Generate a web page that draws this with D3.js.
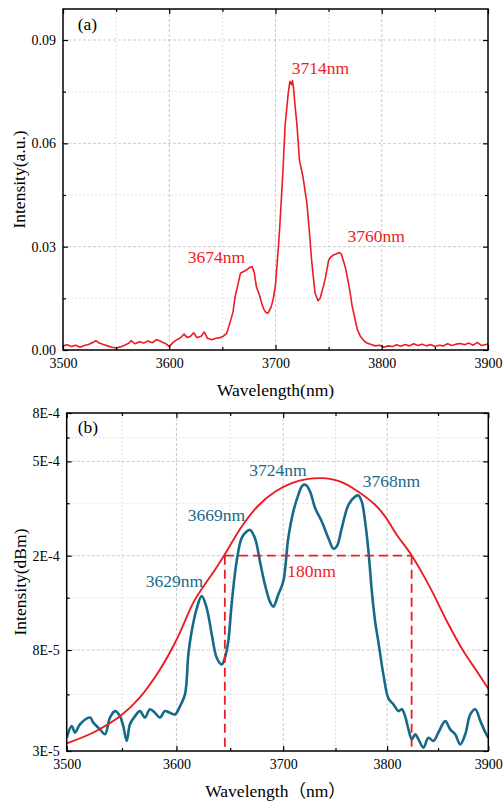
<!DOCTYPE html>
<html>
<head>
<meta charset="utf-8">
<script src="https://cdn.jsdelivr.net/npm/d3@7"></script>
<style>
  body { margin: 0; background: #fff; }
  svg { display: block; }
  text { font-family: "Liberation Serif", "Times New Roman", Times, "DejaVu Serif", serif, "Noto Sans CJK SC"; }
</style>
</head>
<body>
<div id="chart"></div>
<script>
// ---- data ----
const wavelengthTicks = [3500, 3600, 3700, 3800, 3900];
const wavelengthMinor = [3550, 3650, 3750, 3850];

const intensityTicksA = [0, 0.03, 0.06, 0.09];
const intensityMinorA = [0.015, 0.045, 0.075];

const intensityTicksB = [3e-5, 8e-5, 2e-4, 5e-4, 8e-4];
const intensityLabelsB = ["3E-5", "8E-5", "2E-4", "5E-4", "8E-4"];
const intensityMinorB = [5.2e-5, 1.33e-4, 3.33e-4, 6.3e-4];

// panel (a): [wavelength nm, intensity a.u.]
const spectrumA = [
  [3500,.0012],[3504,.0015],[3508,.0010],[3512,.0014],[3516,.0008],[3520,.0013],[3524,.0016],
  [3528,.0022],[3531,.0027],[3534,.0020],[3538,.0016],[3542,.0012],[3546,.0008],[3550,.0006],
  [3554,.0009],[3558,.0014],[3562,.0020],[3564,.0027],[3568,.0018],[3572,.0024],[3576,.0020],
  [3580,.0026],[3584,.0021],[3588,.0030],[3591,.0027],[3594,.0022],[3597,.0018],[3600,.0010],
  [3603,.0020],[3606,.0028],[3610,.0034],[3614,.0046],[3617,.0036],[3620,.0040],[3623,.0050],
  [3626,.0036],[3630,.0040],[3633,.0052],[3636,.0034],[3640,.0030],[3644,.0034],[3648,.0036],
  [3651,.0040],[3654,.0048],[3657,.0078],[3660,.0110],[3662,.0155],[3665,.0195],[3667,.0223],
  [3670,.0228],[3673,.0233],[3676,.0240],[3678,.0242],[3680,.0225],[3682,.0184],[3685,.0158],
  [3687,.0136],[3689,.0118],[3691,.0109],[3693,.0107],[3696,.0126],[3698,.0150],[3700,.0190],
  [3701.3,.0242],[3703,.0310],[3704.4,.0378],[3707,.0520],[3709,.0650],[3712,.0746],[3713.5,.0780],
  [3715,.0770],[3716,.0782],[3717,.0760],[3718.5,.0707],[3720,.0660],[3721,.0620],[3722.5,.0552],
  [3726,.0500],[3729.5,.0427],[3732,.0340],[3734,.0260],[3736,.0200],[3737.3,.0165],[3740,.0143],
  [3742,.0150],[3745,.0184],[3747,.0210],[3750,.0260],[3752,.0270],[3754.6,.0276],[3757,.0279],
  [3760,.0283],[3762,.0278],[3765.6,.0242],[3768,.0205],[3770.3,.0165],[3772,.0130],[3775,.0087],
  [3777,.0060],[3780,.0039],[3783,.0028],[3786,.0020],[3790,.0016],[3794,.0012],[3798,.0014],
  [3802,.0008],[3806,.0012],[3810,.0010],[3814,.0015],[3818,.0011],[3822,.0016],[3826,.0012],
  [3830,.0018],[3834,.0013],[3838,.0017],[3842,.0012],[3846,.0016],[3850,.0010],[3854,.0014],
  [3858,.0012],[3862,.0018],[3866,.0013],[3870,.0017],[3874,.0019],[3878,.0015],[3882,.0020],
  [3886,.0014],[3890,.0022],[3894,.0013],[3898,.0016],[3900,.0017]
];

// panel (b): measured spectrum
const spectrumB = [
  [3500,3.41e-5],[3504.5,3.82e-5],[3507.5,3.59e-5],[3512,3.89e-5],[3521,4.15e-5],[3524,3.95e-5],
  [3530,3.70e-5],[3534.6,3.53e-5],[3539.1,4.15e-5],[3543.7,4.42e-5],[3548.2,4.21e-5],[3551.2,3.82e-5],
  [3554.3,3.31e-5],[3557.3,3.89e-5],[3561.9,4.21e-5],[3566.4,4.42e-5],[3571,4.15e-5],[3575.6,4.50e-5],
  [3580.2,4.35e-5],[3584.8,4.15e-5],[3589.4,4.42e-5],[3594,4.35e-5],[3598.7,4.28e-5],[3603.3,4.64e-5],
  [3607.9,5.20e-5],[3611,7.66e-5],[3614.1,9.60e-5],[3618.8,1.20e-4],[3623.4,1.35e-4],[3628.1,1.20e-4],
  [3632.8,9.30e-5],[3637.4,7.42e-5],[3642.1,6.95e-5],[3645.1,7.44e-5],[3648.2,8.71e-5],[3651.3,1.24e-4],
  [3656,1.89e-4],[3660.7,2.37e-4],[3665.4,2.53e-4],[3668.6,2.57e-4],[3673.3,2.37e-4],[3678,1.89e-4],
  [3682.7,1.51e-4],[3687.4,1.28e-4],[3690.6,1.22e-4],[3695.3,1.37e-4],[3700.1,1.56e-4],[3704.8,2.37e-4],
  [3709.6,3.07e-4],[3714.4,3.61e-4],[3718.2,3.95e-4],[3721.5,3.98e-4],[3725.6,3.73e-4],[3730.4,3.18e-4],
  [3736.8,2.79e-4],[3743.2,2.37e-4],[3748,2.14e-4],[3751.3,2.19e-4],[3756.1,2.62e-4],[3762.5,3.28e-4],
  [3768.9,3.55e-4],[3772.1,3.59e-4],[3775.4,3.38e-4],[3778.6,2.79e-4],[3781.8,2.10e-4],[3785.1,1.42e-4],
  [3788.3,1.06e-4],[3791.6,8.6e-5],[3796.4,6.3e-5],[3801.3,5.0e-5],[3806.2,4.72e-5],[3811.1,4.42e-5],
  [3814.4,4.50e-5],[3817.6,4.21e-5],[3820.9,3.70e-5],[3824.2,3.36e-5],[3827.5,3.53e-5],[3830.7,3.36e-5],
  [3835.6,3.10e-5],[3840.5,3.41e-5],[3845.5,3.31e-5],[3850.4,3.59e-5],[3857.1,4.01e-5],[3862.1,3.70e-5],
  [3867,3.53e-5],[3872,3.20e-5],[3877,3.53e-5],[3882,4.28e-5],[3887,4.50e-5],[3892.1,4.01e-5],
  [3897.1,3.59e-5],[3900,3.41e-5]
];

// panel (b): fitted envelope
const fitB = [
  [3500,3.23e-5],[3524,3.59e-5],[3548.2,4.20e-5],[3566.4,5.05e-5],[3584.8,6.62e-5],[3600.2,8.86e-5],
  [3615.6,1.268e-4],[3621.8,1.41e-4],[3635.8,1.746e-4],[3644.2,2.0e-4],[3660.7,2.65e-4],[3676.4,3.25e-4],
  [3692.2,3.72e-4],[3708.1,4.05e-4],[3723.9,4.22e-4],[3736.8,4.25e-4],[3744.7,4.22e-4],[3756.1,4.09e-4],
  [3770.6,3.76e-4],[3788.3,3.28e-4],[3798,2.93e-4],[3809.4,2.45e-4],[3824.2,2.0e-4],[3842.1,1.47e-4],
  [3858.6,1.06e-4],[3875.2,7.9e-5],[3888.7,6.5e-5],[3900,5.49e-5]
];

const fwhmEdges = [3645, 3824];
const fwhmLevel = 2e-4;

const peakLabelsA = [
  { text: "3714nm", wl: 3715.4, v: 0.0802 },
  { text: "3674nm", wl: 3617.4, v: 0.0253 },
  { text: "3760nm", wl: 3767.7, v: 0.0315 }
];
const peakLabelsB = [
  { text: "3724nm", wl: 3668, v: 4.34e-4 },
  { text: "3768nm", wl: 3776.3, v: 3.88e-4 },
  { text: "3669nm", wl: 3610.4, v: 2.79e-4 },
  { text: "3629nm", wl: 3571.7, v: 1.476e-4 }
];
const widthLabel = { text: "180nm", wl: 3703.9, v: 1.627e-4 };

const red = "#ec1c24", teal = "#176a87";
const serif = "'Liberation Serif', 'Times New Roman', Times, 'DejaVu Serif', serif";

const svg = d3.select("#chart").append("svg")
  .attr("width", 503)
  .attr("height", 803)
  .attr("font-family", serif);

// scales
const xA = d3.scaleLinear().domain([3500, 3900]).range([63, 488]);
const yA = d3.scaleLinear().domain([0, 0.099]).range([350, 9]);
const xB = d3.scaleLog().domain([3500, 3900]).range([66.7, 488.3]);
const yB = d3.scaleLog().domain([3e-5, 8e-4]).range([751, 413]);

function drawFrame(x, y, yMajor, yMinor, id) {
  const [l, r] = x.range(), [b, t] = y.range();
  const g = svg.append("g");

  // grid
  const vg = wavelengthTicks.slice(1, -1).map(d => ({ d, minor: false }))
    .concat(wavelengthMinor.map(d => ({ d, minor: true })));
  g.selectAll(".vg").data(vg).join("line")
    .attr("x1", d => x(d.d)).attr("x2", d => x(d.d))
    .attr("y1", t).attr("y2", b)
    .attr("stroke", d => d.minor ? "#dadada" : "#bcbcbc")
    .attr("stroke-width", 0.8)
    .attr("stroke-dasharray", d => d.minor ? "2,2" : "3,2");
  const hg = yMajor.filter(d => y(d) > t + 1 && y(d) < b - 1).map(d => ({ d, minor: false }))
    .concat(yMinor.map(d => ({ d, minor: true })));
  g.selectAll(".hg").data(hg).join("line")
    .attr("y1", d => y(d.d)).attr("y2", d => y(d.d))
    .attr("x1", l).attr("x2", r)
    .attr("stroke", d => d.minor ? "#dadada" : "#bcbcbc")
    .attr("stroke-width", 0.8)
    .attr("stroke-dasharray", d => d.minor ? "2,2" : "3,2");

  // clip for curves
  svg.append("clipPath").attr("id", id)
    .append("rect").attr("x", l).attr("y", t).attr("width", r - l).attr("height", b - t);
}

function drawAxes(x, y, yMajor, yMinor, yFmt) {
  const [l, r] = x.range(), [b, t] = y.range();
  const style = sel => {
    sel.attr("font-family", serif).attr("font-size", 14);
    sel.select(".domain").remove();
    sel.selectAll("line").attr("stroke", "#000").attr("stroke-width", 1.2);
    sel.selectAll("text").attr("fill", "#000");
  };
  svg.append("g").attr("transform", `translate(0,${b})`)
    .call(d3.axisBottom(x).tickValues(wavelengthTicks).tickFormat(d3.format("d"))
      .tickSize(-5).tickPadding(8.5)).call(style);
  svg.append("g").attr("transform", `translate(0,${b})`)
    .call(d3.axisBottom(x).tickValues(wavelengthMinor).tickFormat("").tickSize(-3)).call(style);
  svg.append("g").attr("transform", `translate(0,${t})`)
    .call(d3.axisTop(x).tickValues(wavelengthTicks).tickFormat("").tickSize(-5)).call(style);
  svg.append("g").attr("transform", `translate(0,${t})`)
    .call(d3.axisTop(x).tickValues(wavelengthMinor).tickFormat("").tickSize(-3)).call(style);

  svg.append("g").attr("transform", `translate(${l},0)`)
    .call(d3.axisLeft(y).tickValues(yMajor).tickFormat(yFmt).tickSize(-5).tickPadding(7)).call(style);
  svg.append("g").attr("transform", `translate(${l},0)`)
    .call(d3.axisLeft(y).tickValues(yMinor).tickFormat("").tickSize(-3)).call(style);
  svg.append("g").attr("transform", `translate(${r},0)`)
    .call(d3.axisRight(y).tickValues(yMajor).tickFormat("").tickSize(-5)).call(style);
  svg.append("g").attr("transform", `translate(${r},0)`)
    .call(d3.axisRight(y).tickValues(yMinor).tickFormat("").tickSize(-3)).call(style);

  svg.append("rect")
    .attr("x", l).attr("y", t).attr("width", r - l).attr("height", b - t)
    .attr("fill", "none").attr("stroke", "#000").attr("stroke-width", 1.5);
}

// ---------- panel (a) ----------
drawFrame(xA, yA, intensityTicksA, intensityMinorA, "clipA");

svg.append("path")
  .datum(spectrumA)
  .attr("clip-path", "url(#clipA)")
  .attr("fill", "none")
  .attr("stroke", red)
  .attr("stroke-width", 1.6)
  .attr("stroke-linejoin", "round")
  .attr("d", d3.line().x(d => xA(d[0])).y(d => yA(d[1])));

drawAxes(xA, yA, intensityTicksA, intensityMinorA, d3.format(".2f"));

svg.append("g").selectAll("text")
  .data(peakLabelsA)
  .join("text")
  .attr("x", d => xA(d.wl))
  .attr("y", d => yA(d.v))
  .attr("font-size", 17.5)
  .attr("fill", red)
  .text(d => d.text);

svg.append("text").attr("x", 77.7).attr("y", 30).attr("font-size", 17.5).text("(a)");

svg.append("text")
  .attr("x", (xA.range()[0] + xA.range()[1]) / 2)
  .attr("y", 396)
  .attr("text-anchor", "middle")
  .attr("font-size", 17.5)
  .text("Wavelength(nm)");

svg.append("text")
  .attr("transform", `translate(25,${(yA.range()[0] + yA.range()[1]) / 2}) rotate(-90)`)
  .attr("text-anchor", "middle")
  .attr("font-size", 17.5)
  .text("Intensity(a.u.)");

// ---------- panel (b) ----------
const fmtB = (d, i) => intensityLabelsB[i];
drawFrame(xB, yB, intensityTicksB, intensityMinorB, "clipB");

svg.append("path")
  .datum(spectrumB)
  .attr("clip-path", "url(#clipB)")
  .attr("fill", "none")
  .attr("stroke", teal)
  .attr("stroke-width", 2.6)
  .attr("stroke-linejoin", "round")
  .attr("d", d3.line().x(d => xB(d[0])).y(d => yB(d[1])).curve(d3.curveCatmullRom));

svg.append("path")
  .datum(fitB)
  .attr("clip-path", "url(#clipB)")
  .attr("fill", "none")
  .attr("stroke", red)
  .attr("stroke-width", 1.9)
  .attr("d", d3.line().x(d => xB(d[0])).y(d => yB(d[1])).curve(d3.curveCatmullRom));

// FWHM dashed markers
const dash = svg.append("g")
  .attr("stroke", red)
  .attr("stroke-width", 1.8)
  .attr("stroke-dasharray", "9,5")
  .attr("fill", "none");
dash.append("line")
  .attr("x1", xB(fwhmEdges[0])).attr("x2", xB(fwhmEdges[1]))
  .attr("y1", yB(fwhmLevel)).attr("y2", yB(fwhmLevel));
dash.selectAll(".v").data(fwhmEdges).join("line")
  .attr("x1", d => xB(d)).attr("x2", d => xB(d))
  .attr("y1", yB(fwhmLevel)).attr("y2", yB.range()[0]);

drawAxes(xB, yB, intensityTicksB, intensityMinorB, fmtB);

svg.append("g").selectAll("text")
  .data(peakLabelsB)
  .join("text")
  .attr("x", d => xB(d.wl))
  .attr("y", d => yB(d.v))
  .attr("font-size", 17.5)
  .attr("fill", teal)
  .text(d => d.text);

svg.append("text")
  .attr("x", xB(widthLabel.wl))
  .attr("y", yB(widthLabel.v))
  .attr("font-size", 17.5)
  .attr("fill", red)
  .text(widthLabel.text);

svg.append("text").attr("x", 77.7).attr("y", 433).attr("font-size", 17.5).text("(b)");

svg.append("text")
  .attr("x", (xB.range()[0] + xB.range()[1]) / 2 - 2)
  .attr("y", 797)
  .attr("text-anchor", "middle")
  .attr("font-size", 17.5)
  .text("Wavelength（nm）");

svg.append("text")
  .attr("transform", `translate(26,${(yB.range()[0] + yB.range()[1]) / 2}) rotate(-90)`)
  .attr("text-anchor", "middle")
  .attr("font-size", 17.5)
  .text("Intensity(dBm)");
</script>
</body>
</html>
